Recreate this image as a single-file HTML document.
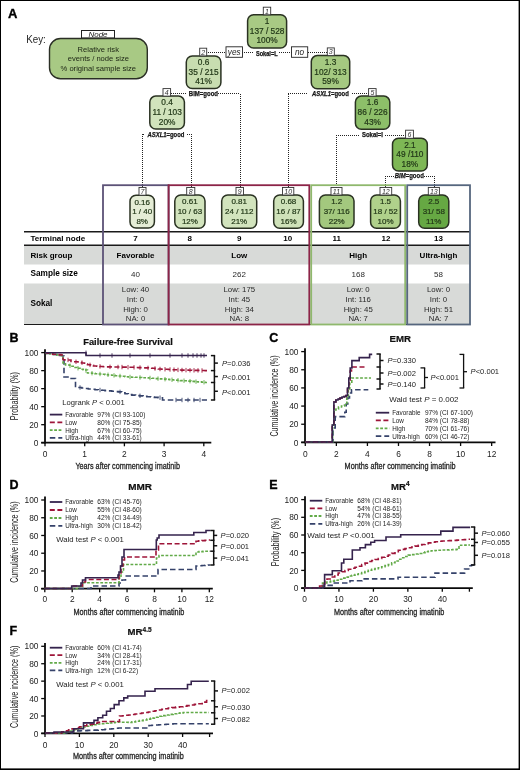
<!DOCTYPE html>
<html><head><meta charset="utf-8"><title>Figure</title>
<style>
html,body{margin:0;padding:0;background:#fff;}
body{width:520px;height:770px;overflow:hidden;}
svg{display:block;font-family:"Liberation Sans", sans-serif;will-change:transform;}
</style></head><body>
<svg width="520" height="770" viewBox="0 0 520 770">
<rect x="0" y="0" width="520" height="770" fill="#fff"/>
<text x="8" y="18.2" font-size="13" font-weight="bold" fill="#000" stroke="#000" stroke-width="0.35">A</text>
<text x="26.2" y="43" font-size="11.5" fill="#262626" textLength="19.6" lengthAdjust="spacingAndGlyphs" >Key:</text>
<rect x="81.5" y="30.5" width="33" height="7.5" fill="#fff" stroke="#222" stroke-width="1"/>
<text x="98" y="37" font-size="8" text-anchor="middle" font-style="italic" fill="#222" >Node</text>
<rect x="49.5" y="38.5" width="97.80000000000001" height="40.3" rx="11" ry="11" fill="#a8c984" stroke="#2b2f26" stroke-width="1.4"/>
<text x="98.3" y="51.5" font-size="7.6" text-anchor="middle" fill="#1c2414" >Relative risk</text>
<text x="98.3" y="61.3" font-size="7.6" text-anchor="middle" fill="#1c2414" >events / node size</text>
<text x="98.3" y="71.2" font-size="7.6" text-anchor="middle" fill="#1c2414" >% original sample size</text>
<line x1="206" y1="52.5" x2="226" y2="52.5" stroke="#222" stroke-width="1.0" stroke-dasharray="1,1" />
<line x1="242" y1="52.5" x2="254" y2="52.5" stroke="#222" stroke-width="1.0" stroke-dasharray="1,1" />
<line x1="279" y1="52.5" x2="292" y2="52.5" stroke="#222" stroke-width="1.0" stroke-dasharray="1,1" />
<line x1="308" y1="52.5" x2="327" y2="52.5" stroke="#222" stroke-width="1.0" stroke-dasharray="1,1" />
<rect x="226" y="46.8" width="16.5" height="10.5" fill="#fff" stroke="#222" stroke-width="0.9"/>
<text x="234.2" y="55" font-size="8.2" text-anchor="middle" font-style="italic" fill="#222" >yes</text>
<rect x="291.5" y="46.8" width="16.2" height="10.5" fill="#fff" stroke="#222" stroke-width="0.9"/>
<text x="299.6" y="55" font-size="8.2" text-anchor="middle" font-style="italic" fill="#222" >no</text>
<text x="266.75" y="56" font-size="6.3" text-anchor="middle" font-weight="bold" fill="#151515" textLength="21.7" lengthAdjust="spacingAndGlyphs" stroke="#151515" stroke-width="0.25">Sokal=L</text>
<line x1="171" y1="93.5" x2="187" y2="93.5" stroke="#222" stroke-width="1.0" stroke-dasharray="1,1" />
<line x1="218" y1="93.5" x2="240" y2="93.5" stroke="#222" stroke-width="1.0" stroke-dasharray="1,1" />
<line x1="240.5" y1="94" x2="240.5" y2="188" stroke="#222" stroke-width="1.0" stroke-dasharray="1,1" />
<text x="203.4" y="95.9" font-size="6.3" text-anchor="middle" font-weight="bold" fill="#151515" textLength="29.2" lengthAdjust="spacingAndGlyphs" stroke="#151515" stroke-width="0.25">BIM=good</text>
<line x1="143" y1="134.5" x2="145" y2="134.5" stroke="#222" stroke-width="1.0" stroke-dasharray="1,1" />
<line x1="142.5" y1="134" x2="142.5" y2="188" stroke="#222" stroke-width="1.0" stroke-dasharray="1,1" />
<line x1="187" y1="134.5" x2="191" y2="134.5" stroke="#222" stroke-width="1.0" stroke-dasharray="1,1" />
<line x1="191.5" y1="134" x2="191.5" y2="188" stroke="#222" stroke-width="1.0" stroke-dasharray="1,1" />
<text x="166" y="137" font-size="6.3" text-anchor="middle" font-weight="bold" fill="#151515" textLength="36.9" lengthAdjust="spacingAndGlyphs" stroke="#151515" stroke-width="0.25"><tspan font-style="italic">ASXL1</tspan>=good</text>
<line x1="288" y1="93.5" x2="307" y2="93.5" stroke="#222" stroke-width="1.0" stroke-dasharray="1,1" />
<line x1="288.5" y1="94" x2="288.5" y2="188" stroke="#222" stroke-width="1.0" stroke-dasharray="1,1" />
<line x1="352" y1="93.5" x2="369" y2="93.5" stroke="#222" stroke-width="1.0" stroke-dasharray="1,1" />
<text x="330.4" y="95.6" font-size="6.3" text-anchor="middle" font-weight="bold" fill="#151515" textLength="36.9" lengthAdjust="spacingAndGlyphs" stroke="#151515" stroke-width="0.25"><tspan font-style="italic">ASXL1</tspan>=good</text>
<line x1="336" y1="135.5" x2="360" y2="135.5" stroke="#222" stroke-width="1.0" stroke-dasharray="1,1" />
<line x1="336.5" y1="135" x2="336.5" y2="188" stroke="#222" stroke-width="1.0" stroke-dasharray="1,1" />
<line x1="385" y1="135.5" x2="406" y2="135.5" stroke="#222" stroke-width="1.0" stroke-dasharray="1,1" />
<text x="372.5" y="137" font-size="6.3" text-anchor="middle" font-weight="bold" fill="#151515" textLength="21" lengthAdjust="spacingAndGlyphs" stroke="#151515" stroke-width="0.25">Sokal=I</text>
<line x1="385" y1="176.5" x2="394" y2="176.5" stroke="#222" stroke-width="1.0" stroke-dasharray="1,1" />
<line x1="385.5" y1="176" x2="385.5" y2="188" stroke="#222" stroke-width="1.0" stroke-dasharray="1,1" />
<line x1="424" y1="176.5" x2="434" y2="176.5" stroke="#222" stroke-width="1.0" stroke-dasharray="1,1" />
<line x1="434.5" y1="176" x2="434.5" y2="188" stroke="#222" stroke-width="1.0" stroke-dasharray="1,1" />
<text x="409.3" y="178.3" font-size="6.3" text-anchor="middle" font-weight="bold" fill="#151515" textLength="29" lengthAdjust="spacingAndGlyphs" stroke="#151515" stroke-width="0.25"><tspan font-style="italic">BIM</tspan>=good</text>
<rect x="24" y="246" width="446" height="18.5" fill="#d8dad8"/>
<rect x="24" y="283.5" width="446" height="40.5" fill="#d8dad8"/>
<rect x="247.6" y="14.8" width="39.00000000000003" height="33.3" rx="6" ry="6" fill="#a8ca84" stroke="#2a3222" stroke-width="1.5"/>
<text x="267.1" y="24.0" font-size="8.3" text-anchor="middle" fill="#223818" stroke="#223818" stroke-width="0.2">1</text>
<text x="267.1" y="33.7" font-size="8.3" text-anchor="middle" fill="#223818" stroke="#223818" stroke-width="0.2">137 / 528</text>
<text x="267.1" y="43.3" font-size="8.3" text-anchor="middle" fill="#223818" stroke="#223818" stroke-width="0.2">100%</text>
<rect x="263.3" y="7.2" width="7.399999999999977" height="7.6000000000000005" fill="#fff" stroke="#333" stroke-width="0.9"/>
<text x="267.0" y="13.5" font-size="7" text-anchor="middle" font-style="italic" fill="#333" >1</text>
<rect x="186.3" y="55.9" width="34.599999999999994" height="32.699999999999996" rx="6" ry="6" fill="#c8ddb0" stroke="#2a3222" stroke-width="1.5"/>
<text x="203.6" y="65.1" font-size="8.3" text-anchor="middle" fill="#223818" stroke="#223818" stroke-width="0.2">0.6</text>
<text x="203.6" y="74.8" font-size="8.3" text-anchor="middle" fill="#223818" stroke="#223818" stroke-width="0.2">35 / 215</text>
<text x="203.6" y="84.4" font-size="8.3" text-anchor="middle" fill="#223818" stroke="#223818" stroke-width="0.2">41%</text>
<rect x="199.7" y="48.2" width="7.0" height="7.699999999999996" fill="#fff" stroke="#333" stroke-width="0.9"/>
<text x="203.2" y="54.6" font-size="7" text-anchor="middle" font-style="italic" fill="#333" >2</text>
<rect x="311.3" y="55.6" width="38.39999999999998" height="33.15" rx="6" ry="6" fill="#a5c981" stroke="#2a3222" stroke-width="1.5"/>
<text x="330.5" y="64.8" font-size="8.3" text-anchor="middle" fill="#223818" stroke="#223818" stroke-width="0.2">1.3</text>
<text x="330.5" y="74.5" font-size="8.3" text-anchor="middle" fill="#223818" stroke="#223818" stroke-width="0.2">102/ 313</text>
<text x="330.5" y="84.1" font-size="8.3" text-anchor="middle" fill="#223818" stroke="#223818" stroke-width="0.2">59%</text>
<rect x="327.3" y="47.9" width="7.0" height="7.700000000000003" fill="#fff" stroke="#333" stroke-width="0.9"/>
<text x="330.8" y="54.3" font-size="7" text-anchor="middle" font-style="italic" fill="#333" >3</text>
<rect x="149.8" y="96.1" width="34.599999999999994" height="32.900000000000006" rx="6" ry="6" fill="#d1e3bc" stroke="#2a3222" stroke-width="1.5"/>
<text x="167.1" y="105.3" font-size="8.3" text-anchor="middle" fill="#223818" stroke="#223818" stroke-width="0.2">0.4</text>
<text x="167.1" y="115.0" font-size="8.3" text-anchor="middle" fill="#223818" stroke="#223818" stroke-width="0.2">11 / 103</text>
<text x="167.1" y="124.6" font-size="8.3" text-anchor="middle" fill="#223818" stroke="#223818" stroke-width="0.2">20%</text>
<rect x="163" y="88.6" width="7.599999999999994" height="7.5" fill="#fff" stroke="#333" stroke-width="0.9"/>
<text x="166.8" y="94.8" font-size="7" text-anchor="middle" font-style="italic" fill="#333" >4</text>
<rect x="355.4" y="96.1" width="34.400000000000034" height="33.099999999999994" rx="6" ry="6" fill="#8dbf69" stroke="#2a3222" stroke-width="1.5"/>
<text x="372.6" y="105.3" font-size="8.3" text-anchor="middle" fill="#223818" stroke="#223818" stroke-width="0.2">1.6</text>
<text x="372.6" y="115.0" font-size="8.3" text-anchor="middle" fill="#223818" stroke="#223818" stroke-width="0.2">86 / 226</text>
<text x="372.6" y="124.6" font-size="8.3" text-anchor="middle" fill="#223818" stroke="#223818" stroke-width="0.2">43%</text>
<rect x="368.6" y="88.6" width="7.5" height="7.5" fill="#fff" stroke="#333" stroke-width="0.9"/>
<text x="372.35" y="94.8" font-size="7" text-anchor="middle" font-style="italic" fill="#333" >5</text>
<rect x="392.5" y="138.3" width="34.80000000000001" height="32.79999999999998" rx="6" ry="6" fill="#7eb755" stroke="#2a3222" stroke-width="1.5"/>
<text x="409.9" y="147.5" font-size="8.3" text-anchor="middle" fill="#223818" stroke="#223818" stroke-width="0.2">2.1</text>
<text x="409.9" y="157.2" font-size="8.3" text-anchor="middle" fill="#223818" stroke="#223818" stroke-width="0.2">49 /110</text>
<text x="409.9" y="166.8" font-size="8.3" text-anchor="middle" fill="#223818" stroke="#223818" stroke-width="0.2">18%</text>
<rect x="405.6" y="130.2" width="7.7999999999999545" height="8.100000000000023" fill="#fff" stroke="#333" stroke-width="0.9"/>
<text x="409.5" y="137.0" font-size="7" text-anchor="middle" font-style="italic" fill="#333" >6</text>
<rect x="130" y="195.2" width="24.400000000000006" height="32.80000000000001" rx="6" ry="6" fill="#e5edd6" stroke="#2a3222" stroke-width="1.5"/>
<text x="142.2" y="204.6" font-size="8" text-anchor="middle" fill="#223818" stroke="#223818" stroke-width="0.2">0.16</text>
<text x="142.2" y="214.0" font-size="8" text-anchor="middle" fill="#223818" stroke="#223818" stroke-width="0.2">1 / 40</text>
<text x="142.2" y="223.7" font-size="8" text-anchor="middle" fill="#223818" stroke="#223818" stroke-width="0.2">8%</text>
<rect x="139" y="187.5" width="7" height="7.699999999999989" fill="#fff" stroke="#333" stroke-width="0.9"/>
<text x="142.5" y="193.9" font-size="7" text-anchor="middle" font-style="italic" fill="#333" >7</text>
<rect x="174.8" y="195" width="30.19999999999999" height="33.30000000000001" rx="6" ry="6" fill="#d2e4bd" stroke="#2a3222" stroke-width="1.5"/>
<text x="189.9" y="204.4" font-size="8" text-anchor="middle" fill="#223818" stroke="#223818" stroke-width="0.2">0.61</text>
<text x="189.9" y="213.8" font-size="8" text-anchor="middle" fill="#223818" stroke="#223818" stroke-width="0.2">10 / 63</text>
<text x="189.9" y="223.5" font-size="8" text-anchor="middle" fill="#223818" stroke="#223818" stroke-width="0.2">12%</text>
<rect x="186.7" y="187.5" width="8.100000000000023" height="7.5" fill="#fff" stroke="#333" stroke-width="0.9"/>
<text x="190.75" y="193.7" font-size="7" text-anchor="middle" font-style="italic" fill="#333" >8</text>
<rect x="221.7" y="195" width="35.0" height="33.30000000000001" rx="6" ry="6" fill="#d2e4bd" stroke="#2a3222" stroke-width="1.5"/>
<text x="239.2" y="204.4" font-size="8" text-anchor="middle" fill="#223818" stroke="#223818" stroke-width="0.2">0.81</text>
<text x="239.2" y="213.8" font-size="8" text-anchor="middle" fill="#223818" stroke="#223818" stroke-width="0.2">24 / 112</text>
<text x="239.2" y="223.5" font-size="8" text-anchor="middle" fill="#223818" stroke="#223818" stroke-width="0.2">21%</text>
<rect x="236" y="187.5" width="7.5" height="7.5" fill="#fff" stroke="#333" stroke-width="0.9"/>
<text x="239.75" y="193.7" font-size="7" text-anchor="middle" font-style="italic" fill="#333" >9</text>
<rect x="273.7" y="195" width="29.69999999999999" height="33.30000000000001" rx="6" ry="6" fill="#cfe2b9" stroke="#2a3222" stroke-width="1.5"/>
<text x="288.55" y="204.4" font-size="8" text-anchor="middle" fill="#223818" stroke="#223818" stroke-width="0.2">0.68</text>
<text x="288.55" y="213.8" font-size="8" text-anchor="middle" fill="#223818" stroke="#223818" stroke-width="0.2">16 / 87</text>
<text x="288.55" y="223.5" font-size="8" text-anchor="middle" fill="#223818" stroke="#223818" stroke-width="0.2">16%</text>
<rect x="282.5" y="187.5" width="11.300000000000011" height="7.5" fill="#fff" stroke="#333" stroke-width="0.9"/>
<text x="288.15" y="193.7" font-size="7" text-anchor="middle" font-style="italic" fill="#333" >10</text>
<rect x="319.4" y="195" width="34.60000000000002" height="33.30000000000001" rx="6" ry="6" fill="#a3c87e" stroke="#2a3222" stroke-width="1.5"/>
<text x="336.7" y="204.4" font-size="8" text-anchor="middle" fill="#223818" stroke="#223818" stroke-width="0.2">1.2</text>
<text x="336.7" y="213.8" font-size="8" text-anchor="middle" fill="#223818" stroke="#223818" stroke-width="0.2">37/ 116</text>
<text x="336.7" y="223.5" font-size="8" text-anchor="middle" fill="#223818" stroke="#223818" stroke-width="0.2">22%</text>
<rect x="331" y="187.5" width="11" height="7.5" fill="#fff" stroke="#333" stroke-width="0.9"/>
<text x="336.5" y="193.7" font-size="7" text-anchor="middle" font-style="italic" fill="#333" >11</text>
<rect x="370.6" y="195" width="29.799999999999955" height="33.30000000000001" rx="6" ry="6" fill="#b0d18b" stroke="#2a3222" stroke-width="1.5"/>
<text x="385.5" y="204.4" font-size="8" text-anchor="middle" fill="#223818" stroke="#223818" stroke-width="0.2">1.5</text>
<text x="385.5" y="213.8" font-size="8" text-anchor="middle" fill="#223818" stroke="#223818" stroke-width="0.2">18 / 52</text>
<text x="385.5" y="223.5" font-size="8" text-anchor="middle" fill="#223818" stroke="#223818" stroke-width="0.2">10%</text>
<rect x="380" y="187.5" width="11.699999999999989" height="7.5" fill="#fff" stroke="#333" stroke-width="0.9"/>
<text x="385.85" y="193.7" font-size="7" text-anchor="middle" font-style="italic" fill="#333" >12</text>
<rect x="418.7" y="195" width="30.100000000000023" height="33.30000000000001" rx="6" ry="6" fill="#66a843" stroke="#2a3222" stroke-width="1.5"/>
<text x="433.75" y="204.4" font-size="8" text-anchor="middle" fill="#223818" stroke="#223818" stroke-width="0.2">2.5</text>
<text x="433.75" y="213.8" font-size="8" text-anchor="middle" fill="#223818" stroke="#223818" stroke-width="0.2">31/ 58</text>
<text x="433.75" y="223.5" font-size="8" text-anchor="middle" fill="#223818" stroke="#223818" stroke-width="0.2">11%</text>
<rect x="428.3" y="187.5" width="11.099999999999966" height="7.5" fill="#fff" stroke="#333" stroke-width="0.9"/>
<text x="433.85" y="193.7" font-size="7" text-anchor="middle" font-style="italic" fill="#333" >13</text>
<line x1="24" y1="231.8" x2="470" y2="231.8" stroke="#1a1a1a" stroke-width="1.4" />
<line x1="24" y1="245.3" x2="470" y2="245.3" stroke="#1a1a1a" stroke-width="1.4" />
<line x1="24" y1="324.5" x2="470" y2="324.5" stroke="#1a1a1a" stroke-width="1.2" />
<rect x="103" y="185.2" width="65.6" height="139.3" fill="none" stroke="#5c5277" stroke-width="1.8"/>
<rect x="168.6" y="185.2" width="140.7" height="139.3" fill="none" stroke="#8c2448" stroke-width="1.8"/>
<rect x="311.2" y="185.2" width="94" height="139.3" fill="none" stroke="#8fb86d" stroke-width="1.8"/>
<rect x="407.2" y="185.2" width="62.8" height="139.3" fill="none" stroke="#56667e" stroke-width="1.8"/>
<text x="30.5" y="240.9" font-size="8" font-weight="bold" textLength="54.7" lengthAdjust="spacingAndGlyphs" >Terminal node</text>
<text x="30.5" y="257.7" font-size="8" font-weight="bold" textLength="41.8" lengthAdjust="spacingAndGlyphs" >Risk group</text>
<text x="30.5" y="276.3" font-size="8.3" font-weight="bold" textLength="47.3" lengthAdjust="spacingAndGlyphs" >Sample size</text>
<text x="30.5" y="306.4" font-size="8.2" font-weight="bold" >Sokal</text>
<text x="135.5" y="240.9" font-size="8" text-anchor="middle" font-weight="bold" >7</text>
<text x="189.7" y="240.9" font-size="8" text-anchor="middle" font-weight="bold" >8</text>
<text x="239.3" y="240.9" font-size="8" text-anchor="middle" font-weight="bold" >9</text>
<text x="287.8" y="240.9" font-size="8" text-anchor="middle" font-weight="bold" >10</text>
<text x="336.7" y="240.9" font-size="8" text-anchor="middle" font-weight="bold" >11</text>
<text x="386" y="240.9" font-size="8" text-anchor="middle" font-weight="bold" >12</text>
<text x="438.5" y="240.9" font-size="8" text-anchor="middle" font-weight="bold" >13</text>
<text x="135.5" y="258.3" font-size="8" text-anchor="middle" font-weight="bold" >Favorable</text>
<text x="239.3" y="258.3" font-size="8" text-anchor="middle" font-weight="bold" >Low</text>
<text x="358.2" y="258.3" font-size="8" text-anchor="middle" font-weight="bold" >High</text>
<text x="438.5" y="258.3" font-size="8" text-anchor="middle" font-weight="bold" >Ultra-high</text>
<text x="135.5" y="276.8" font-size="8" text-anchor="middle" fill="#2a2a2a" >40</text>
<text x="239.3" y="276.8" font-size="8" text-anchor="middle" fill="#2a2a2a" >262</text>
<text x="358.2" y="276.8" font-size="8" text-anchor="middle" fill="#2a2a2a" >168</text>
<text x="438.5" y="276.8" font-size="8" text-anchor="middle" fill="#2a2a2a" >58</text>
<text x="135.5" y="292.2" font-size="7.8" text-anchor="middle" fill="#2a2a2a" >Low: 40</text>
<text x="135.5" y="301.95" font-size="7.8" text-anchor="middle" fill="#2a2a2a" >Int: 0</text>
<text x="135.5" y="311.7" font-size="7.8" text-anchor="middle" fill="#2a2a2a" >High: 0</text>
<text x="135.5" y="321.45" font-size="7.8" text-anchor="middle" fill="#2a2a2a" >NA: 0</text>
<text x="239.3" y="292.2" font-size="7.8" text-anchor="middle" fill="#2a2a2a" >Low: 175</text>
<text x="239.3" y="301.95" font-size="7.8" text-anchor="middle" fill="#2a2a2a" >Int: 45</text>
<text x="239.3" y="311.7" font-size="7.8" text-anchor="middle" fill="#2a2a2a" >High: 34</text>
<text x="239.3" y="321.45" font-size="7.8" text-anchor="middle" fill="#2a2a2a" >NA: 8</text>
<text x="358.2" y="292.2" font-size="7.8" text-anchor="middle" fill="#2a2a2a" >Low: 0</text>
<text x="358.2" y="301.95" font-size="7.8" text-anchor="middle" fill="#2a2a2a" >Int: 116</text>
<text x="358.2" y="311.7" font-size="7.8" text-anchor="middle" fill="#2a2a2a" >High: 45</text>
<text x="358.2" y="321.45" font-size="7.8" text-anchor="middle" fill="#2a2a2a" >NA: 7</text>
<text x="438.5" y="292.2" font-size="7.8" text-anchor="middle" fill="#2a2a2a" >Low: 0</text>
<text x="438.5" y="301.95" font-size="7.8" text-anchor="middle" fill="#2a2a2a" >Int: 0</text>
<text x="438.5" y="311.7" font-size="7.8" text-anchor="middle" fill="#2a2a2a" >High: 51</text>
<text x="438.5" y="321.45" font-size="7.8" text-anchor="middle" fill="#2a2a2a" >NA: 7</text>
<text x="9.5" y="342.2" font-size="12.5" font-weight="bold" fill="#000" stroke="#000" stroke-width="0.35">B</text>
<text x="128" y="345.4" font-size="9.6" text-anchor="middle" font-weight="bold" fill="#111" textLength="89.5" lengthAdjust="spacingAndGlyphs" stroke="#111" stroke-width="0.2">Failure-free Survival</text>
<line x1="45" y1="349.20000000000005" x2="45" y2="443.5" stroke="#0a0a0a" stroke-width="1.8" />
<line x1="41.2" y1="352.6" x2="45" y2="352.6" stroke="#0a0a0a" stroke-width="1.3" />
<text x="38.5" y="355.7" font-size="8.4" text-anchor="end" fill="#222" >100</text>
<line x1="41.2" y1="370.62" x2="45" y2="370.62" stroke="#0a0a0a" stroke-width="1.3" />
<text x="38.5" y="373.72" font-size="8.4" text-anchor="end" fill="#222" >80</text>
<line x1="41.2" y1="388.64" x2="45" y2="388.64" stroke="#0a0a0a" stroke-width="1.3" />
<text x="38.5" y="391.74" font-size="8.4" text-anchor="end" fill="#222" >60</text>
<line x1="41.2" y1="406.65999999999997" x2="45" y2="406.65999999999997" stroke="#0a0a0a" stroke-width="1.3" />
<text x="38.5" y="409.76" font-size="8.4" text-anchor="end" fill="#222" >40</text>
<line x1="41.2" y1="424.68" x2="45" y2="424.68" stroke="#0a0a0a" stroke-width="1.3" />
<text x="38.5" y="427.78" font-size="8.4" text-anchor="end" fill="#222" >20</text>
<line x1="41.2" y1="442.7" x2="45" y2="442.7" stroke="#0a0a0a" stroke-width="1.3" />
<text x="38.5" y="445.8" font-size="8.4" text-anchor="end" fill="#222" >0</text>
<line x1="41.2" y1="442.7" x2="211.3" y2="442.7" stroke="#0a0a0a" stroke-width="1.7" />
<line x1="45.0" y1="442.7" x2="45.0" y2="446.3" stroke="#0a0a0a" stroke-width="1.3" />
<text x="45.0" y="457.3" font-size="8.4" text-anchor="middle" fill="#222" >0</text>
<line x1="84.7" y1="442.7" x2="84.7" y2="446.3" stroke="#0a0a0a" stroke-width="1.3" />
<text x="84.7" y="457.3" font-size="8.4" text-anchor="middle" fill="#222" >1</text>
<line x1="124.4" y1="442.7" x2="124.4" y2="446.3" stroke="#0a0a0a" stroke-width="1.3" />
<text x="124.4" y="457.3" font-size="8.4" text-anchor="middle" fill="#222" >2</text>
<line x1="164.10000000000002" y1="442.7" x2="164.10000000000002" y2="446.3" stroke="#0a0a0a" stroke-width="1.3" />
<text x="164.10000000000002" y="457.3" font-size="8.4" text-anchor="middle" fill="#222" >3</text>
<line x1="203.8" y1="442.7" x2="203.8" y2="446.3" stroke="#0a0a0a" stroke-width="1.3" />
<text x="203.8" y="457.3" font-size="8.4" text-anchor="middle" fill="#222" >4</text>
<text x="0" y="0" font-size="10.8" text-anchor="middle" fill="#222" textLength="48.2" lengthAdjust="spacingAndGlyphs" transform="translate(17.6,396.1) rotate(-90)">Probability (%)</text>
<text x="127.7" y="469.4" font-size="9.6" text-anchor="middle" fill="#222" textLength="104.6" lengthAdjust="spacingAndGlyphs" stroke="#222" stroke-width="0.3">Years after commencing imatinib</text>
<polyline points="45.0,352.8 46.7,352.8 46.7,353.4 50.0,353.4 50.0,353.9 53.3,353.9 53.3,354.5 55.0,354.5 56.5,354.5 56.5,355.0 59.5,355.0 59.5,355.5 62.5,355.5 62.5,356.0 64.0,356.0 64.0,377.0 69.4,377.0 69.4,378.5 75.5,378.5 75.5,386.5 77.8,386.5 77.8,387.5 80.0,387.5 81.7,387.5 81.7,388.0 85.0,388.0 85.0,388.5 88.3,388.5 88.3,389.0 90.0,389.0 91.7,389.0 91.7,389.3 95.0,389.3 95.0,389.7 98.3,389.7 98.3,390.0 100.0,390.0 101.7,390.0 101.7,390.3 105.0,390.3 105.0,390.6 108.3,390.6 108.3,390.9 111.7,390.9 111.7,391.3 115.0,391.3 115.0,391.6 118.3,391.6 118.3,391.9 120.0,391.9 121.7,391.9 121.7,392.8 125.0,392.8 125.0,393.7 128.3,393.7 128.3,394.6 130.0,394.6 131.9,394.6 131.9,395.1 135.6,395.1 135.6,395.5 139.4,395.5 139.4,395.9 143.1,395.9 143.1,396.4 145.0,396.4 146.9,396.4 146.9,396.7 150.6,396.7 150.6,397.0 154.4,397.0 154.4,397.4 158.1,397.4 158.1,397.7 160.0,397.7 162.5,397.7 162.5,400.0 165.0,400.0 207.0,400.0" fill="none" stroke="#35426a" stroke-width="1.6" stroke-dasharray="5.5,3" stroke-linejoin="miter" />
<polyline points="45.0,352.8 46.7,352.8 46.7,353.4 50.0,353.4 50.0,353.9 53.3,353.9 53.3,354.5 55.0,354.5 57.0,354.5 57.0,355.0 61.0,355.0 61.0,355.5 63.0,355.5 63.0,363.0 65.5,363.0 65.5,365.0 68.0,365.0 69.8,365.0 69.8,366.2 73.2,366.2 73.2,367.5 75.0,367.5 76.7,367.5 76.7,368.3 80.0,368.3 80.0,369.2 83.3,369.2 83.3,370.0 85.0,370.0 87.5,370.0 87.5,373.0 90.0,373.0 91.7,373.0 91.7,373.3 95.0,373.3 95.0,373.7 98.3,373.7 98.3,374.0 100.0,374.0 101.7,374.0 101.7,374.3 105.0,374.3 105.0,374.7 108.3,374.7 108.3,375.0 111.7,375.0 111.7,375.3 115.0,375.3 115.0,375.7 118.3,375.7 118.3,376.0 121.7,376.0 121.7,376.3 125.0,376.3 125.0,376.7 128.3,376.7 128.3,377.0 130.0,377.0 131.7,377.0 131.7,377.2 135.0,377.2 135.0,377.3 138.3,377.3 138.3,377.5 141.7,377.5 141.7,377.7 145.0,377.7 145.0,377.8 148.3,377.8 148.3,378.0 150.0,378.0 151.8,378.0 151.8,378.3 155.4,378.3 155.4,378.6 158.9,378.6 158.9,378.9 162.5,378.9 162.5,379.1 166.1,379.1 166.1,379.4 169.6,379.4 169.6,379.7 173.2,379.7 173.2,380.0 175.0,380.0 176.8,380.0 176.8,380.3 180.3,380.3 180.3,380.6 183.9,380.6 183.9,380.8 187.4,380.8 187.4,381.1 191.0,381.1 191.0,381.4 194.6,381.4 194.6,381.7 198.1,381.7 198.1,381.9 201.7,381.9 201.7,382.2 205.2,382.2 205.2,382.5 207.0,382.5" fill="none" stroke="#62aa48" stroke-width="1.6" stroke-dasharray="2.8,1.6" stroke-linejoin="miter" />
<polyline points="45.0,352.8 47.5,352.8 47.5,353.3 50.0,353.3 52.5,353.3 52.5,354.3 55.0,354.3 57.0,354.3 57.0,354.6 61.0,354.6 61.0,355.0 63.0,355.0 63.0,359.7 64.8,359.7 64.8,359.9 68.2,359.9 68.2,360.0 70.0,360.0 71.0,360.0 71.0,361.5 72.0,361.5 74.0,361.5 74.0,361.8 78.0,361.8 78.0,362.0 80.0,362.0 81.5,362.0 81.5,363.0 84.5,363.0 84.5,364.0 86.0,364.0 87.5,364.0 87.5,364.7 90.5,364.7 90.5,365.3 93.5,365.3 93.5,366.0 95.0,366.0 96.7,366.0 96.7,366.3 100.0,366.3 100.0,366.5 103.3,366.5 103.3,366.8 105.0,366.8 106.8,366.8 106.8,366.9 110.4,366.9 110.4,366.9 113.9,366.9 113.9,367.0 117.5,367.0 117.5,367.0 121.1,367.0 121.1,367.1 124.6,367.1 124.6,367.1 128.2,367.1 128.2,367.2 130.0,367.2 131.7,367.2 131.7,367.3 135.0,367.3 135.0,367.5 138.3,367.5 138.3,367.6 141.7,367.6 141.7,367.7 145.0,367.7 145.0,367.9 148.3,367.9 148.3,368.0 150.0,368.0 151.7,368.0 151.7,368.3 155.0,368.3 155.0,368.7 158.3,368.7 158.3,369.0 160.0,369.0 161.7,369.0 161.7,369.2 165.0,369.2 165.0,369.3 168.3,369.3 168.3,369.5 171.7,369.5 171.7,369.7 175.0,369.7 175.0,369.8 178.3,369.8 178.3,370.0 180.0,370.0 181.7,370.0 181.7,370.1 185.1,370.1 185.1,370.1 188.4,370.1 188.4,370.2 191.8,370.2 191.8,370.3 195.2,370.3 195.2,370.4 198.6,370.4 198.6,370.5 201.9,370.5 201.9,370.5 205.3,370.5 205.3,370.6 207.0,370.6" fill="none" stroke="#9e1539" stroke-width="1.6" stroke-dasharray="5,2.6" stroke-linejoin="miter" />
<polyline points="45.0,352.8 86.0,352.8 86.0,355.5 207.0,355.5" fill="none" stroke="#35234d" stroke-width="1.6" stroke-linejoin="miter" />
<line x1="86" y1="350.6" x2="86" y2="355.0" stroke="#35234d" stroke-width="0.9" />
<line x1="100" y1="353.3" x2="100" y2="357.7" stroke="#35234d" stroke-width="0.9" />
<line x1="112" y1="353.3" x2="112" y2="357.7" stroke="#35234d" stroke-width="0.9" />
<line x1="130" y1="353.3" x2="130" y2="357.7" stroke="#35234d" stroke-width="0.9" />
<line x1="150" y1="353.3" x2="150" y2="357.7" stroke="#35234d" stroke-width="0.9" />
<line x1="170" y1="353.3" x2="170" y2="357.7" stroke="#35234d" stroke-width="0.9" />
<line x1="182" y1="353.3" x2="182" y2="357.7" stroke="#35234d" stroke-width="0.9" />
<line x1="188" y1="353.3" x2="188" y2="357.7" stroke="#35234d" stroke-width="0.9" />
<line x1="193" y1="353.3" x2="193" y2="357.7" stroke="#35234d" stroke-width="0.9" />
<line x1="197" y1="353.3" x2="197" y2="357.7" stroke="#35234d" stroke-width="0.9" />
<line x1="201" y1="353.3" x2="201" y2="357.7" stroke="#35234d" stroke-width="0.9" />
<line x1="204" y1="353.3" x2="204" y2="357.7" stroke="#35234d" stroke-width="0.9" />
<line x1="68" y1="357.7142857142857" x2="68" y2="362.1142857142857" stroke="#9e1539" stroke-width="0.9" />
<line x1="76" y1="359.55" x2="76" y2="363.95" stroke="#9e1539" stroke-width="0.9" />
<line x1="82" y1="360.4666666666667" x2="82" y2="364.8666666666667" stroke="#9e1539" stroke-width="0.9" />
<line x1="90" y1="362.6888888888889" x2="90" y2="367.0888888888889" stroke="#9e1539" stroke-width="0.9" />
<line x1="100" y1="364.2" x2="100" y2="368.59999999999997" stroke="#9e1539" stroke-width="0.9" />
<line x1="110" y1="364.68" x2="110" y2="369.08" stroke="#9e1539" stroke-width="0.9" />
<line x1="118" y1="364.808" x2="118" y2="369.20799999999997" stroke="#9e1539" stroke-width="0.9" />
<line x1="122" y1="364.872" x2="122" y2="369.272" stroke="#9e1539" stroke-width="0.9" />
<line x1="128" y1="364.968" x2="128" y2="369.368" stroke="#9e1539" stroke-width="0.9" />
<line x1="134" y1="365.16" x2="134" y2="369.56" stroke="#9e1539" stroke-width="0.9" />
<line x1="140" y1="365.40000000000003" x2="140" y2="369.8" stroke="#9e1539" stroke-width="0.9" />
<line x1="148" y1="365.72" x2="148" y2="370.12" stroke="#9e1539" stroke-width="0.9" />
<line x1="155" y1="366.3" x2="155" y2="370.7" stroke="#9e1539" stroke-width="0.9" />
<line x1="160" y1="366.8" x2="160" y2="371.2" stroke="#9e1539" stroke-width="0.9" />
<line x1="165" y1="367.05" x2="165" y2="371.45" stroke="#9e1539" stroke-width="0.9" />
<line x1="170" y1="367.3" x2="170" y2="371.7" stroke="#9e1539" stroke-width="0.9" />
<line x1="174" y1="367.5" x2="174" y2="371.9" stroke="#9e1539" stroke-width="0.9" />
<line x1="178" y1="367.7" x2="178" y2="372.09999999999997" stroke="#9e1539" stroke-width="0.9" />
<line x1="182" y1="367.84444444444443" x2="182" y2="372.2444444444444" stroke="#9e1539" stroke-width="0.9" />
<line x1="186" y1="367.93333333333334" x2="186" y2="372.3333333333333" stroke="#9e1539" stroke-width="0.9" />
<line x1="190" y1="368.02222222222224" x2="190" y2="372.4222222222222" stroke="#9e1539" stroke-width="0.9" />
<line x1="194" y1="368.11111111111114" x2="194" y2="372.5111111111111" stroke="#9e1539" stroke-width="0.9" />
<line x1="198" y1="368.20000000000005" x2="198" y2="372.6" stroke="#9e1539" stroke-width="0.9" />
<line x1="202" y1="368.2888888888889" x2="202" y2="372.68888888888887" stroke="#9e1539" stroke-width="0.9" />
<line x1="70" y1="363.51428571428573" x2="70" y2="367.9142857142857" stroke="#62aa48" stroke-width="0.9" />
<line x1="78" y1="366.05" x2="78" y2="370.45" stroke="#62aa48" stroke-width="0.9" />
<line x1="86" y1="368.40000000000003" x2="86" y2="372.8" stroke="#62aa48" stroke-width="0.9" />
<line x1="92" y1="371.0" x2="92" y2="375.4" stroke="#62aa48" stroke-width="0.9" />
<line x1="100" y1="371.8" x2="100" y2="376.2" stroke="#62aa48" stroke-width="0.9" />
<line x1="108" y1="372.6" x2="108" y2="377.0" stroke="#62aa48" stroke-width="0.9" />
<line x1="114" y1="373.2" x2="114" y2="377.59999999999997" stroke="#62aa48" stroke-width="0.9" />
<line x1="120" y1="373.8" x2="120" y2="378.2" stroke="#62aa48" stroke-width="0.9" />
<line x1="130" y1="374.8" x2="130" y2="379.2" stroke="#62aa48" stroke-width="0.9" />
<line x1="140" y1="375.3" x2="140" y2="379.7" stroke="#62aa48" stroke-width="0.9" />
<line x1="150" y1="375.8" x2="150" y2="380.2" stroke="#62aa48" stroke-width="0.9" />
<line x1="158" y1="376.44" x2="158" y2="380.84" stroke="#62aa48" stroke-width="0.9" />
<line x1="165" y1="377.0" x2="165" y2="381.4" stroke="#62aa48" stroke-width="0.9" />
<line x1="172" y1="377.56" x2="172" y2="381.96" stroke="#62aa48" stroke-width="0.9" />
<line x1="178" y1="378.034375" x2="178" y2="382.434375" stroke="#62aa48" stroke-width="0.9" />
<line x1="184" y1="378.503125" x2="184" y2="382.903125" stroke="#62aa48" stroke-width="0.9" />
<line x1="190" y1="378.971875" x2="190" y2="383.371875" stroke="#62aa48" stroke-width="0.9" />
<line x1="196" y1="379.440625" x2="196" y2="383.840625" stroke="#62aa48" stroke-width="0.9" />
<line x1="204" y1="380.065625" x2="204" y2="384.465625" stroke="#62aa48" stroke-width="0.9" />
<line x1="80" y1="385.3" x2="80" y2="389.7" stroke="#35426a" stroke-width="0.9" />
<line x1="100" y1="387.8" x2="100" y2="392.2" stroke="#35426a" stroke-width="0.9" />
<line x1="120" y1="389.7" x2="120" y2="394.09999999999997" stroke="#35426a" stroke-width="0.9" />
<line x1="140" y1="393.6" x2="140" y2="398.0" stroke="#35426a" stroke-width="0.9" />
<line x1="160" y1="395.5" x2="160" y2="399.9" stroke="#35426a" stroke-width="0.9" />
<line x1="176" y1="397.8" x2="176" y2="402.2" stroke="#35426a" stroke-width="0.9" />
<line x1="182" y1="397.8" x2="182" y2="402.2" stroke="#35426a" stroke-width="0.9" />
<line x1="188" y1="397.8" x2="188" y2="402.2" stroke="#35426a" stroke-width="0.9" />
<line x1="194" y1="397.8" x2="194" y2="402.2" stroke="#35426a" stroke-width="0.9" />
<line x1="200" y1="397.8" x2="200" y2="402.2" stroke="#35426a" stroke-width="0.9" />
<text x="62.3" y="404.6" font-size="8" fill="#222" textLength="62.5" lengthAdjust="spacingAndGlyphs" >Logrank <tspan font-style="italic">P</tspan> &lt; 0.001</text>
<line x1="49.8" y1="414.6" x2="62.3" y2="414.6" stroke="#35234d" stroke-width="1.8" />
<g transform="translate(65.2,417.0) scale(0.95,1) translate(-65.2,-417.0)"><text x="65.2" y="417.0" font-size="6.7" fill="#222" >Favorable</text></g>
<g transform="translate(97.3,417.0) scale(0.98,1) translate(-97.3,-417.0)"><text x="97.3" y="417.0" font-size="6.7" fill="#222" >97% (CI 93-100)</text></g>
<line x1="49.8" y1="422.3" x2="62.3" y2="422.3" stroke="#9e1539" stroke-width="1.8" stroke-dasharray="5,2.6" />
<g transform="translate(65.2,424.7) scale(0.95,1) translate(-65.2,-424.7)"><text x="65.2" y="424.7" font-size="6.7" fill="#222" >Low</text></g>
<g transform="translate(97.3,424.7) scale(0.98,1) translate(-97.3,-424.7)"><text x="97.3" y="424.7" font-size="6.7" fill="#222" >80% (CI 75-85)</text></g>
<line x1="49.8" y1="430.2" x2="62.3" y2="430.2" stroke="#62aa48" stroke-width="1.8" stroke-dasharray="2.8,1.6" />
<g transform="translate(65.2,432.6) scale(0.95,1) translate(-65.2,-432.6)"><text x="65.2" y="432.6" font-size="6.7" fill="#222" >High</text></g>
<g transform="translate(97.3,432.6) scale(0.98,1) translate(-97.3,-432.6)"><text x="97.3" y="432.6" font-size="6.7" fill="#222" >67% (CI 60-75)</text></g>
<line x1="49.8" y1="437.9" x2="62.3" y2="437.9" stroke="#35426a" stroke-width="1.8" stroke-dasharray="5.5,3" />
<g transform="translate(65.2,440.3) scale(0.95,1) translate(-65.2,-440.3)"><text x="65.2" y="440.3" font-size="6.7" fill="#222" >Ultra-high</text></g>
<g transform="translate(97.3,440.3) scale(0.98,1) translate(-97.3,-440.3)"><text x="97.3" y="440.3" font-size="6.7" fill="#222" >44% (CI 33-61)</text></g>
<line x1="214.4" y1="355.6" x2="214.4" y2="400" stroke="#111" stroke-width="1.5"/>
<line x1="210.9" y1="355.6" x2="215.15" y2="355.6" stroke="#111" stroke-width="1.5"/>
<line x1="210.9" y1="370.6" x2="215.15" y2="370.6" stroke="#111" stroke-width="1.5"/>
<line x1="210.9" y1="382.5" x2="215.15" y2="382.5" stroke="#111" stroke-width="1.5"/>
<line x1="210.9" y1="400" x2="215.15" y2="400" stroke="#111" stroke-width="1.5"/>
<line x1="214.4" y1="363.1" x2="217.9" y2="363.1" stroke="#111" stroke-width="1.5"/>
<line x1="214.4" y1="376.55" x2="217.9" y2="376.55" stroke="#111" stroke-width="1.5"/>
<line x1="214.4" y1="391.25" x2="217.9" y2="391.25" stroke="#111" stroke-width="1.5"/>
<text x="222" y="365.7" font-size="7.5" fill="#222" textLength="28.5" lengthAdjust="spacingAndGlyphs"><tspan font-style="italic">P</tspan>=0.036</text>
<text x="222" y="379.6" font-size="7.5" fill="#222" textLength="28.5" lengthAdjust="spacingAndGlyphs"><tspan font-style="italic">P</tspan>&lt;0.001</text>
<text x="222" y="394.6" font-size="7.5" fill="#222" textLength="28.5" lengthAdjust="spacingAndGlyphs"><tspan font-style="italic">P</tspan>&lt;0.001</text>
<text x="269.3" y="341.5" font-size="12.5" font-weight="bold" fill="#000" stroke="#000" stroke-width="0.35">C</text>
<text x="400.2" y="342.2" font-size="9.6" text-anchor="middle" font-weight="bold" fill="#111" textLength="21.5" lengthAdjust="spacingAndGlyphs" stroke="#111" stroke-width="0.2">EMR</text>
<line x1="305" y1="348.20000000000005" x2="305" y2="443.2" stroke="#0a0a0a" stroke-width="1.8" />
<line x1="301.2" y1="351.6" x2="305" y2="351.6" stroke="#0a0a0a" stroke-width="1.3" />
<text x="298.5" y="354.7" font-size="8.4" text-anchor="end" fill="#222" >100</text>
<line x1="301.2" y1="369.76" x2="305" y2="369.76" stroke="#0a0a0a" stroke-width="1.3" />
<text x="298.5" y="372.86" font-size="8.4" text-anchor="end" fill="#222" >80</text>
<line x1="301.2" y1="387.92" x2="305" y2="387.92" stroke="#0a0a0a" stroke-width="1.3" />
<text x="298.5" y="391.02" font-size="8.4" text-anchor="end" fill="#222" >60</text>
<line x1="301.2" y1="406.08" x2="305" y2="406.08" stroke="#0a0a0a" stroke-width="1.3" />
<text x="298.5" y="409.18" font-size="8.4" text-anchor="end" fill="#222" >40</text>
<line x1="301.2" y1="424.24" x2="305" y2="424.24" stroke="#0a0a0a" stroke-width="1.3" />
<text x="298.5" y="427.34" font-size="8.4" text-anchor="end" fill="#222" >20</text>
<line x1="301.2" y1="442.4" x2="305" y2="442.4" stroke="#0a0a0a" stroke-width="1.3" />
<text x="298.5" y="445.5" font-size="8.4" text-anchor="end" fill="#222" >0</text>
<line x1="301.2" y1="442.4" x2="495.5" y2="442.4" stroke="#0a0a0a" stroke-width="1.7" />
<line x1="305.3" y1="442.4" x2="305.3" y2="446.0" stroke="#0a0a0a" stroke-width="1.3" />
<text x="305.3" y="457.3" font-size="8.4" text-anchor="middle" fill="#222" >0</text>
<line x1="336.36" y1="442.4" x2="336.36" y2="446.0" stroke="#0a0a0a" stroke-width="1.3" />
<text x="336.36" y="457.3" font-size="8.4" text-anchor="middle" fill="#222" >2</text>
<line x1="367.42" y1="442.4" x2="367.42" y2="446.0" stroke="#0a0a0a" stroke-width="1.3" />
<text x="367.42" y="457.3" font-size="8.4" text-anchor="middle" fill="#222" >4</text>
<line x1="398.48" y1="442.4" x2="398.48" y2="446.0" stroke="#0a0a0a" stroke-width="1.3" />
<text x="398.48" y="457.3" font-size="8.4" text-anchor="middle" fill="#222" >6</text>
<line x1="429.54" y1="442.4" x2="429.54" y2="446.0" stroke="#0a0a0a" stroke-width="1.3" />
<text x="429.54" y="457.3" font-size="8.4" text-anchor="middle" fill="#222" >8</text>
<line x1="460.6" y1="442.4" x2="460.6" y2="446.0" stroke="#0a0a0a" stroke-width="1.3" />
<text x="460.6" y="457.3" font-size="8.4" text-anchor="middle" fill="#222" >10</text>
<line x1="491.65999999999997" y1="442.4" x2="491.65999999999997" y2="446.0" stroke="#0a0a0a" stroke-width="1.3" />
<text x="491.65999999999997" y="457.3" font-size="8.4" text-anchor="middle" fill="#222" >12</text>
<text x="0" y="0" font-size="10.8" text-anchor="middle" fill="#222" textLength="81.2" lengthAdjust="spacingAndGlyphs" transform="translate(277.8,396) rotate(-90)">Cumulative incidence (%)</text>
<text x="400.1" y="469.3" font-size="9.6" text-anchor="middle" fill="#222" textLength="111.0" lengthAdjust="spacingAndGlyphs" stroke="#222" stroke-width="0.3">Months after commencing imatinib</text>
<polyline points="305.3,442.0 332.0,442.0 333.0,442.0 333.0,428.0 334.0,428.0 335.2,428.0 335.2,416.6 336.5,416.6 344.0,416.6 344.8,416.6 344.8,412.3 345.5,412.3 346.2,412.3 346.2,404.0 347.0,404.0 347.8,404.0 347.8,398.0 348.5,398.0 349.5,398.0 349.5,393.0 350.5,393.0 351.5,393.0 351.5,389.8 352.5,389.8 368.3,389.8" fill="none" stroke="#35426a" stroke-width="1.6" stroke-dasharray="5.5,3" stroke-linejoin="miter" />
<polyline points="305.3,442.0 331.8,442.0 332.6,442.0 332.6,425.0 333.5,425.0 334.2,425.0 334.2,410.0 335.0,410.0 336.0,410.0 336.0,409.0 337.0,409.0 338.5,409.0 338.5,407.0 340.0,407.0 341.5,407.0 341.5,406.0 343.0,406.0 344.5,406.0 344.5,405.0 346.0,405.0 346.8,405.0 346.8,398.0 347.6,398.0 348.3,398.0 348.3,390.0 349.0,390.0 349.8,390.0 349.8,383.0 350.5,383.0 351.8,383.0 351.8,378.0 353.0,378.0 371.0,378.0" fill="none" stroke="#62aa48" stroke-width="1.6" stroke-dasharray="2.8,1.6" stroke-linejoin="miter" />
<polyline points="305.3,442.0 331.5,442.0 332.2,442.0 332.2,425.0 333.0,425.0 333.9,425.0 333.9,402.0 334.8,402.0 335.9,402.0 335.9,400.0 337.0,400.0 338.0,400.0 338.0,399.0 339.0,399.0 340.0,399.0 340.0,398.0 341.0,398.0 342.0,398.0 342.0,397.0 343.0,397.0 344.0,397.0 344.0,396.5 345.0,396.5 346.0,396.5 346.0,395.5 347.0,395.5 347.5,395.5 347.5,389.0 348.0,389.0 348.8,389.0 348.8,380.0 349.5,380.0 350.2,380.0 350.2,371.0 351.0,371.0 351.5,371.0 351.5,367.0 352.0,367.0 365.0,367.0" fill="none" stroke="#9e1539" stroke-width="1.6" stroke-dasharray="5,2.6" stroke-linejoin="miter" />
<polyline points="305.3,442.0 331.5,442.0 332.2,442.0 332.2,425.0 333.0,425.0 333.9,425.0 333.9,402.0 334.8,402.0 335.9,402.0 335.9,400.0 337.0,400.0 338.0,400.0 338.0,399.0 339.0,399.0 340.0,399.0 340.0,398.0 341.0,398.0 342.0,398.0 342.0,397.0 343.0,397.0 344.0,397.0 344.0,396.5 345.0,396.5 346.0,396.5 346.0,395.5 347.0,395.5 347.5,395.5 347.5,388.0 348.0,388.0 348.8,388.0 348.8,378.0 349.5,378.0 350.2,378.0 350.2,368.0 351.0,368.0 351.9,368.0 351.9,360.6 352.7,360.6 359.2,360.6 359.2,357.6 369.6,357.6 369.6,354.4 372.2,354.4" fill="none" stroke="#35234d" stroke-width="1.6" stroke-linejoin="miter" />
<line x1="380" y1="354" x2="380" y2="389" stroke="#111" stroke-width="1.5"/>
<line x1="376.5" y1="354" x2="380.75" y2="354" stroke="#111" stroke-width="1.5"/>
<line x1="376.5" y1="367" x2="380.75" y2="367" stroke="#111" stroke-width="1.5"/>
<line x1="376.5" y1="379" x2="380.75" y2="379" stroke="#111" stroke-width="1.5"/>
<line x1="376.5" y1="389" x2="380.75" y2="389" stroke="#111" stroke-width="1.5"/>
<line x1="380" y1="360.5" x2="383.5" y2="360.5" stroke="#111" stroke-width="1.5"/>
<line x1="380" y1="373.0" x2="383.5" y2="373.0" stroke="#111" stroke-width="1.5"/>
<line x1="380" y1="384.0" x2="383.5" y2="384.0" stroke="#111" stroke-width="1.5"/>
<text x="387.5" y="362.8" font-size="7.5" fill="#222" textLength="28.5" lengthAdjust="spacingAndGlyphs"><tspan font-style="italic">P</tspan>=0.330</text>
<text x="387.5" y="375.6" font-size="7.5" fill="#222" textLength="28.5" lengthAdjust="spacingAndGlyphs"><tspan font-style="italic">P</tspan>=0.002</text>
<text x="387.5" y="387.2" font-size="7.5" fill="#222" textLength="28.5" lengthAdjust="spacingAndGlyphs"><tspan font-style="italic">P</tspan>=0.140</text>
<line x1="424.6" y1="367.9" x2="424.6" y2="388" stroke="#111" stroke-width="1.3"/>
<line x1="420.5" y1="367.9" x2="425.2" y2="367.9" stroke="#111" stroke-width="1.3"/>
<line x1="420.5" y1="388" x2="425.2" y2="388" stroke="#111" stroke-width="1.3"/>
<line x1="424.6" y1="377.5" x2="428" y2="377.5" stroke="#111" stroke-width="1.3"/>
<text x="430.4" y="380.2" font-size="7.5" fill="#222" textLength="28.5" lengthAdjust="spacingAndGlyphs"><tspan font-style="italic">P</tspan>&lt;0.001</text>
<line x1="463.6" y1="354.4" x2="463.6" y2="388" stroke="#111" stroke-width="1.3"/>
<line x1="459.5" y1="354.4" x2="464.2" y2="354.4" stroke="#111" stroke-width="1.3"/>
<line x1="459.5" y1="388" x2="464.2" y2="388" stroke="#111" stroke-width="1.3"/>
<line x1="463.6" y1="371.7" x2="467" y2="371.7" stroke="#111" stroke-width="1.3"/>
<text x="470.6" y="374" font-size="7.5" fill="#222" textLength="28.5" lengthAdjust="spacingAndGlyphs"><tspan font-style="italic">P</tspan>&lt;0.001</text>
<text x="389.2" y="401.9" font-size="8" fill="#222" textLength="69.3" lengthAdjust="spacingAndGlyphs" >Wald test <tspan font-style="italic">P</tspan> = 0.002</text>
<line x1="375.8" y1="412.7" x2="389.2" y2="412.7" stroke="#35234d" stroke-width="1.8" />
<g transform="translate(392.2,415.1) scale(0.95,1) translate(-392.2,-415.1)"><text x="392.2" y="415.1" font-size="6.7" fill="#222" >Favorable</text></g>
<g transform="translate(424.9,415.1) scale(0.98,1) translate(-424.9,-415.1)"><text x="424.9" y="415.1" font-size="6.7" fill="#222" >97% (CI 67-100)</text></g>
<line x1="375.8" y1="420.4" x2="389.2" y2="420.4" stroke="#9e1539" stroke-width="1.8" stroke-dasharray="5,2.6" />
<g transform="translate(392.2,422.8) scale(0.95,1) translate(-392.2,-422.8)"><text x="392.2" y="422.8" font-size="6.7" fill="#222" >Low</text></g>
<g transform="translate(424.9,422.8) scale(0.98,1) translate(-424.9,-422.8)"><text x="424.9" y="422.8" font-size="6.7" fill="#222" >84% (CI 78-88)</text></g>
<line x1="375.8" y1="428.4" x2="389.2" y2="428.4" stroke="#62aa48" stroke-width="1.8" stroke-dasharray="2.8,1.6" />
<g transform="translate(392.2,430.8) scale(0.95,1) translate(-392.2,-430.8)"><text x="392.2" y="430.8" font-size="6.7" fill="#222" >High</text></g>
<g transform="translate(424.9,430.8) scale(0.98,1) translate(-424.9,-430.8)"><text x="424.9" y="430.8" font-size="6.7" fill="#222" >70% (CI 61-76)</text></g>
<line x1="375.8" y1="436.2" x2="389.2" y2="436.2" stroke="#35426a" stroke-width="1.8" stroke-dasharray="5.5,3" />
<g transform="translate(392.2,438.6) scale(0.95,1) translate(-392.2,-438.6)"><text x="392.2" y="438.6" font-size="6.7" fill="#222" >Ultra-high</text></g>
<g transform="translate(424.9,438.6) scale(0.98,1) translate(-424.9,-438.6)"><text x="424.9" y="438.6" font-size="6.7" fill="#222" >60% (CI 46-72)</text></g>
<text x="9.5" y="488.8" font-size="12.5" font-weight="bold" fill="#000" stroke="#000" stroke-width="0.35">D</text>
<text x="140.1" y="490" font-size="9.6" text-anchor="middle" font-weight="bold" fill="#111" textLength="23.8" lengthAdjust="spacingAndGlyphs" stroke="#111" stroke-width="0.2">MMR</text>
<line x1="45" y1="496.6" x2="45" y2="589.5" stroke="#0a0a0a" stroke-width="1.8" />
<line x1="41.2" y1="500.0" x2="45" y2="500.0" stroke="#0a0a0a" stroke-width="1.3" />
<text x="38.5" y="503.1" font-size="8.4" text-anchor="end" fill="#222" >100</text>
<line x1="41.2" y1="517.74" x2="45" y2="517.74" stroke="#0a0a0a" stroke-width="1.3" />
<text x="38.5" y="520.84" font-size="8.4" text-anchor="end" fill="#222" >80</text>
<line x1="41.2" y1="535.48" x2="45" y2="535.48" stroke="#0a0a0a" stroke-width="1.3" />
<text x="38.5" y="538.58" font-size="8.4" text-anchor="end" fill="#222" >60</text>
<line x1="41.2" y1="553.22" x2="45" y2="553.22" stroke="#0a0a0a" stroke-width="1.3" />
<text x="38.5" y="556.32" font-size="8.4" text-anchor="end" fill="#222" >40</text>
<line x1="41.2" y1="570.96" x2="45" y2="570.96" stroke="#0a0a0a" stroke-width="1.3" />
<text x="38.5" y="574.06" font-size="8.4" text-anchor="end" fill="#222" >20</text>
<line x1="41.2" y1="588.7" x2="45" y2="588.7" stroke="#0a0a0a" stroke-width="1.3" />
<text x="38.5" y="591.8" font-size="8.4" text-anchor="end" fill="#222" >0</text>
<line x1="41.2" y1="588.7" x2="212.8" y2="588.7" stroke="#0a0a0a" stroke-width="1.7" />
<line x1="44.8" y1="588.7" x2="44.8" y2="592.3000000000001" stroke="#0a0a0a" stroke-width="1.3" />
<text x="44.8" y="602.4" font-size="8.4" text-anchor="middle" fill="#222" >0</text>
<line x1="72.22" y1="588.7" x2="72.22" y2="592.3000000000001" stroke="#0a0a0a" stroke-width="1.3" />
<text x="72.22" y="602.4" font-size="8.4" text-anchor="middle" fill="#222" >2</text>
<line x1="99.64" y1="588.7" x2="99.64" y2="592.3000000000001" stroke="#0a0a0a" stroke-width="1.3" />
<text x="99.64" y="602.4" font-size="8.4" text-anchor="middle" fill="#222" >4</text>
<line x1="127.06" y1="588.7" x2="127.06" y2="592.3000000000001" stroke="#0a0a0a" stroke-width="1.3" />
<text x="127.06" y="602.4" font-size="8.4" text-anchor="middle" fill="#222" >6</text>
<line x1="154.48000000000002" y1="588.7" x2="154.48000000000002" y2="592.3000000000001" stroke="#0a0a0a" stroke-width="1.3" />
<text x="154.48000000000002" y="602.4" font-size="8.4" text-anchor="middle" fill="#222" >8</text>
<line x1="181.90000000000003" y1="588.7" x2="181.90000000000003" y2="592.3000000000001" stroke="#0a0a0a" stroke-width="1.3" />
<text x="181.90000000000003" y="602.4" font-size="8.4" text-anchor="middle" fill="#222" >10</text>
<line x1="209.32" y1="588.7" x2="209.32" y2="592.3000000000001" stroke="#0a0a0a" stroke-width="1.3" />
<text x="209.32" y="602.4" font-size="8.4" text-anchor="middle" fill="#222" >12</text>
<text x="0" y="0" font-size="10.8" text-anchor="middle" fill="#222" textLength="81.5" lengthAdjust="spacingAndGlyphs" transform="translate(17.6,542.1) rotate(-90)">Cumulative incidence (%)</text>
<text x="128.9" y="615.2" font-size="9.6" text-anchor="middle" fill="#222" textLength="110.8" lengthAdjust="spacingAndGlyphs" stroke="#222" stroke-width="0.3">Months after commencing imatinib</text>
<polyline points="44.5,588.5 90.0,588.5 91.0,588.5 91.0,586.0 92.0,586.0 118.0,586.0 119.0,586.0 119.0,583.0 120.0,583.0 122.0,583.0 122.0,580.0 124.0,580.0 125.5,580.0 125.5,576.0 127.0,576.0 157.0,576.0 158.0,576.0 158.0,569.5 159.0,569.5 195.0,569.5 196.0,569.5 196.0,566.0 197.0,566.0 198.6,566.0 198.6,565.8 201.9,565.8 201.9,565.5 205.1,565.5 205.1,565.2 208.4,565.2 208.4,565.0 210.0,565.0" fill="none" stroke="#35426a" stroke-width="1.6" stroke-dasharray="5.5,3" stroke-linejoin="miter" />
<polyline points="44.5,588.5 75.0,588.5 77.5,588.5 77.5,586.5 80.0,586.5 82.5,586.5 82.5,582.7 85.0,582.7 118.0,582.7 119.0,582.7 119.0,578.0 120.0,578.0 121.0,578.0 121.0,572.0 122.0,572.0 123.5,572.0 123.5,564.5 125.0,564.5 155.0,564.5 156.5,564.5 156.5,558.0 158.0,558.0 159.0,558.0 159.0,555.5 160.0,555.5 195.0,555.5 196.0,555.5 196.0,552.0 197.0,552.0 199.0,552.0 199.0,551.6 203.0,551.6 203.0,551.2 205.0,551.2 210.0,551.2" fill="none" stroke="#62aa48" stroke-width="1.6" stroke-dasharray="2.8,1.6" stroke-linejoin="miter" />
<polyline points="44.5,588.5 71.7,588.5 71.7,586.0 81.0,586.0 82.5,586.0 82.5,582.0 84.0,582.0 85.5,582.0 85.5,579.5 87.0,579.5 118.0,579.5 119.0,579.5 119.0,575.0 120.0,575.0 121.0,575.0 121.0,566.0 122.0,566.0 123.0,566.0 123.0,560.0 124.0,560.0 124.5,560.0 124.5,557.0 125.0,557.0 155.0,557.0 156.0,557.0 156.0,550.0 157.0,550.0 158.5,550.0 158.5,543.8 160.0,543.8 195.0,543.8 196.0,543.8 196.0,541.2 197.0,541.2 198.6,541.2 198.6,540.9 201.9,540.9 201.9,540.6 205.1,540.6 205.1,540.3 208.4,540.3 208.4,540.0 210.0,540.0" fill="none" stroke="#9e1539" stroke-width="1.6" stroke-dasharray="5,2.6" stroke-linejoin="miter" />
<polyline points="44.5,588.5 71.7,588.5 71.7,586.0 81.0,586.0 81.0,583.0 82.5,583.0 82.5,580.0 84.0,580.0 85.5,580.0 85.5,577.7 87.0,577.7 118.0,577.7 118.0,575.0 119.0,575.0 119.0,572.0 120.0,572.0 120.5,572.0 120.5,566.0 121.0,566.0 122.0,566.0 122.0,557.0 123.0,557.0 124.0,557.0 124.0,549.5 125.0,549.5 156.3,549.5 156.3,540.0 157.2,540.0 157.2,538.0 158.0,538.0 159.0,538.0 159.0,535.0 160.0,535.0 193.8,535.0 193.8,532.5 206.0,532.5 206.0,530.5 210.0,530.5" fill="none" stroke="#35234d" stroke-width="1.6" stroke-linejoin="miter" />
<line x1="49.8" y1="502" x2="62.3" y2="502" stroke="#35234d" stroke-width="1.8" />
<g transform="translate(65.2,504.4) scale(0.95,1) translate(-65.2,-504.4)"><text x="65.2" y="504.4" font-size="6.7" fill="#222" >Favorable</text></g>
<g transform="translate(97.3,504.4) scale(0.98,1) translate(-97.3,-504.4)"><text x="97.3" y="504.4" font-size="6.7" fill="#222" >63% (CI 45-76)</text></g>
<line x1="49.8" y1="510" x2="62.3" y2="510" stroke="#9e1539" stroke-width="1.8" stroke-dasharray="5,2.6" />
<g transform="translate(65.2,512.4) scale(0.95,1) translate(-65.2,-512.4)"><text x="65.2" y="512.4" font-size="6.7" fill="#222" >Low</text></g>
<g transform="translate(97.3,512.4) scale(0.98,1) translate(-97.3,-512.4)"><text x="97.3" y="512.4" font-size="6.7" fill="#222" >55% (CI 48-60)</text></g>
<line x1="49.8" y1="518" x2="62.3" y2="518" stroke="#62aa48" stroke-width="1.8" stroke-dasharray="2.8,1.6" />
<g transform="translate(65.2,520.4) scale(0.95,1) translate(-65.2,-520.4)"><text x="65.2" y="520.4" font-size="6.7" fill="#222" >High</text></g>
<g transform="translate(97.3,520.4) scale(0.98,1) translate(-97.3,-520.4)"><text x="97.3" y="520.4" font-size="6.7" fill="#222" >42% (CI 34-49)</text></g>
<line x1="49.8" y1="525.8" x2="62.3" y2="525.8" stroke="#35426a" stroke-width="1.8" stroke-dasharray="5.5,3" />
<g transform="translate(65.2,528.2) scale(0.95,1) translate(-65.2,-528.2)"><text x="65.2" y="528.2" font-size="6.7" fill="#222" >Ultra-high</text></g>
<g transform="translate(97.3,528.2) scale(0.98,1) translate(-97.3,-528.2)"><text x="97.3" y="528.2" font-size="6.7" fill="#222" >30% (CI 18-42)</text></g>
<text x="56.3" y="542.2" font-size="8" fill="#222" textLength="67.5" lengthAdjust="spacingAndGlyphs" >Wald test <tspan font-style="italic">P</tspan> &lt; 0.001</text>
<line x1="213.7" y1="530.5" x2="213.7" y2="565" stroke="#111" stroke-width="1.5"/>
<line x1="210.2" y1="530.5" x2="214.45" y2="530.5" stroke="#111" stroke-width="1.5"/>
<line x1="210.2" y1="540.3" x2="214.45" y2="540.3" stroke="#111" stroke-width="1.5"/>
<line x1="210.2" y1="551.2" x2="214.45" y2="551.2" stroke="#111" stroke-width="1.5"/>
<line x1="210.2" y1="565" x2="214.45" y2="565" stroke="#111" stroke-width="1.5"/>
<line x1="213.7" y1="535.4" x2="217.2" y2="535.4" stroke="#111" stroke-width="1.5"/>
<line x1="213.7" y1="545.75" x2="217.2" y2="545.75" stroke="#111" stroke-width="1.5"/>
<line x1="213.7" y1="558.1" x2="217.2" y2="558.1" stroke="#111" stroke-width="1.5"/>
<text x="220.6" y="537.9" font-size="7.5" fill="#222" textLength="28.5" lengthAdjust="spacingAndGlyphs"><tspan font-style="italic">P</tspan>=0.020</text>
<text x="220.6" y="548.6" font-size="7.5" fill="#222" textLength="28.5" lengthAdjust="spacingAndGlyphs"><tspan font-style="italic">P</tspan>=0.001</text>
<text x="220.6" y="560.6" font-size="7.5" fill="#222" textLength="28.5" lengthAdjust="spacingAndGlyphs"><tspan font-style="italic">P</tspan>=0.041</text>
<text x="269.3" y="488.8" font-size="12.5" font-weight="bold" fill="#000" stroke="#000" stroke-width="0.35">E</text>
<text x="391" y="489.8" font-size="9.6" font-weight="bold" fill="#111" stroke="#111" stroke-width="0.2">MR<tspan font-size="6.5" dy="-3.6">4</tspan></text>
<line x1="305" y1="496.20000000000005" x2="305" y2="588.9" stroke="#0a0a0a" stroke-width="1.8" />
<line x1="301.2" y1="499.6" x2="305" y2="499.6" stroke="#0a0a0a" stroke-width="1.3" />
<text x="298.5" y="502.7" font-size="8.4" text-anchor="end" fill="#222" >100</text>
<line x1="301.2" y1="517.3000000000001" x2="305" y2="517.3000000000001" stroke="#0a0a0a" stroke-width="1.3" />
<text x="298.5" y="520.4" font-size="8.4" text-anchor="end" fill="#222" >80</text>
<line x1="301.2" y1="535.0" x2="305" y2="535.0" stroke="#0a0a0a" stroke-width="1.3" />
<text x="298.5" y="538.1" font-size="8.4" text-anchor="end" fill="#222" >60</text>
<line x1="301.2" y1="552.7" x2="305" y2="552.7" stroke="#0a0a0a" stroke-width="1.3" />
<text x="298.5" y="555.8" font-size="8.4" text-anchor="end" fill="#222" >40</text>
<line x1="301.2" y1="570.4" x2="305" y2="570.4" stroke="#0a0a0a" stroke-width="1.3" />
<text x="298.5" y="573.5" font-size="8.4" text-anchor="end" fill="#222" >20</text>
<line x1="301.2" y1="588.1" x2="305" y2="588.1" stroke="#0a0a0a" stroke-width="1.3" />
<text x="298.5" y="591.2" font-size="8.4" text-anchor="end" fill="#222" >0</text>
<line x1="301.2" y1="588.1" x2="472.8" y2="588.1" stroke="#0a0a0a" stroke-width="1.7" />
<line x1="304.5" y1="588.1" x2="304.5" y2="591.7" stroke="#0a0a0a" stroke-width="1.3" />
<text x="304.5" y="602.4" font-size="8.4" text-anchor="middle" fill="#222" >0</text>
<line x1="338.95" y1="588.1" x2="338.95" y2="591.7" stroke="#0a0a0a" stroke-width="1.3" />
<text x="338.95" y="602.4" font-size="8.4" text-anchor="middle" fill="#222" >10</text>
<line x1="373.4" y1="588.1" x2="373.4" y2="591.7" stroke="#0a0a0a" stroke-width="1.3" />
<text x="373.4" y="602.4" font-size="8.4" text-anchor="middle" fill="#222" >20</text>
<line x1="407.85" y1="588.1" x2="407.85" y2="591.7" stroke="#0a0a0a" stroke-width="1.3" />
<text x="407.85" y="602.4" font-size="8.4" text-anchor="middle" fill="#222" >30</text>
<line x1="442.29999999999995" y1="588.1" x2="442.29999999999995" y2="591.7" stroke="#0a0a0a" stroke-width="1.3" />
<text x="442.29999999999995" y="602.4" font-size="8.4" text-anchor="middle" fill="#222" >40</text>
<line x1="469.4" y1="588.1" x2="469.4" y2="591.7" stroke="#0a0a0a" stroke-width="1.3" />
<text x="0" y="0" font-size="10.8" text-anchor="middle" fill="#222" textLength="48.5" lengthAdjust="spacingAndGlyphs" transform="translate(278.6,542.1) rotate(-90)">Probability (%)</text>
<text x="389.15" y="615.2" font-size="9.6" text-anchor="middle" fill="#222" textLength="110.5" lengthAdjust="spacingAndGlyphs" stroke="#222" stroke-width="0.3">Months after commencing imatinib</text>
<polyline points="304.5,588.0 320.0,588.0 322.5,588.0 322.5,585.4 325.0,585.4 333.0,585.4 333.0,583.0 350.0,583.0 350.0,580.8 362.0,580.8 362.0,578.9 398.0,578.9 398.0,577.2 435.0,577.2 435.0,573.1 464.6,573.1 464.6,569.0 468.7,569.0 468.7,565.7 471.5,565.7 471.5,565.0 474.0,565.0" fill="none" stroke="#35426a" stroke-width="1.6" stroke-dasharray="5.5,3" stroke-linejoin="miter" />
<polyline points="304.5,588.0 320.0,588.0 322.5,588.0 322.5,583.0 325.0,583.0 326.9,583.0 326.9,582.0 330.6,582.0 330.6,581.1 334.4,581.1 334.4,580.2 338.1,580.2 338.1,579.2 340.0,579.2 341.7,579.2 341.7,578.1 345.0,578.1 345.0,577.1 348.3,577.1 348.3,576.0 350.0,576.0 351.7,576.0 351.7,575.3 355.0,575.3 355.0,574.5 358.3,574.5 358.3,573.8 360.0,573.8 361.7,573.8 361.7,572.6 365.0,572.6 365.0,571.5 368.3,571.5 368.3,570.3 370.0,570.3 371.7,570.3 371.7,569.4 375.0,569.4 375.0,568.6 378.3,568.6 378.3,567.7 380.0,567.7 381.7,567.7 381.7,566.7 385.0,566.7 385.0,565.6 388.3,565.6 388.3,564.6 390.0,564.6 391.7,564.6 391.7,562.8 395.0,562.8 395.0,561.0 398.3,561.0 398.3,559.2 400.0,559.2 401.7,559.2 401.7,557.8 405.0,557.8 405.0,556.5 408.3,556.5 408.3,555.1 410.0,555.1 411.7,555.1 411.7,554.6 415.0,554.6 415.0,554.0 418.3,554.0 418.3,553.5 420.0,553.5 421.7,553.5 421.7,552.7 425.0,552.7 425.0,551.8 428.3,551.8 428.3,551.0 430.0,551.0 431.7,551.0 431.7,550.7 435.0,550.7 435.0,550.5 438.3,550.5 438.3,550.2 440.0,550.2 441.8,550.2 441.8,550.0 445.4,550.0 445.4,549.9 449.0,549.9 449.0,549.7 452.6,549.7 452.6,549.6 456.2,549.6 456.2,549.4 458.0,549.4 459.0,549.4 459.0,545.3 460.0,545.3 461.7,545.3 461.7,545.2 465.0,545.2 465.0,545.1 468.3,545.1 468.3,545.0 470.0,545.0" fill="none" stroke="#62aa48" stroke-width="1.6" stroke-dasharray="2.8,1.6" stroke-linejoin="miter" />
<polyline points="304.5,588.0 318.0,588.0 319.6,588.0 319.6,586.0 323.0,586.0 323.0,584.0 324.6,584.0 324.8,584.0 324.8,581.0 325.0,581.0 327.0,581.0 327.0,579.0 331.0,579.0 331.0,577.0 333.0,577.0 334.8,577.0 334.8,575.0 338.2,575.0 338.2,573.0 340.0,573.0 341.7,573.0 341.7,571.7 345.0,571.7 345.0,570.5 348.3,570.5 348.3,569.2 350.0,569.2 351.7,569.2 351.7,568.2 355.0,568.2 355.0,567.2 358.3,567.2 358.3,566.2 360.0,566.2 361.7,566.2 361.7,564.6 365.0,564.6 365.0,563.1 368.3,563.1 368.3,561.5 370.0,561.5 371.7,561.5 371.7,560.5 375.0,560.5 375.0,559.5 378.3,559.5 378.3,558.5 380.0,558.5 381.7,558.5 381.7,557.3 385.0,557.3 385.0,556.2 388.3,556.2 388.3,555.0 390.0,555.0 391.7,555.0 391.7,553.4 395.0,553.4 395.0,551.8 398.3,551.8 398.3,550.2 400.0,550.2 401.7,550.2 401.7,549.4 405.0,549.4 405.0,548.6 408.3,548.6 408.3,547.8 410.0,547.8 411.7,547.8 411.7,547.0 415.0,547.0 415.0,546.1 418.3,546.1 418.3,545.3 420.0,545.3 421.7,545.3 421.7,544.5 425.0,544.5 425.0,543.7 428.3,543.7 428.3,542.9 430.0,542.9 431.7,542.9 431.7,542.3 435.0,542.3 435.0,541.8 438.3,541.8 438.3,541.2 440.0,541.2 441.9,541.2 441.9,541.0 445.6,541.0 445.6,540.8 449.4,540.8 449.4,540.6 453.1,540.6 453.1,540.4 455.0,540.4 456.9,540.4 456.9,540.1 460.6,540.1 460.6,539.8 464.4,539.8 464.4,539.6 468.1,539.6 468.1,539.3 470.0,539.3" fill="none" stroke="#9e1539" stroke-width="1.6" stroke-dasharray="5,2.6" stroke-linejoin="miter" />
<polyline points="304.5,588.0 322.0,588.0 323.3,588.0 323.3,587.0 324.6,587.0 324.6,574.6 332.3,574.6 332.3,570.8 341.5,570.8 341.5,563.0 343.8,563.0 343.8,559.2 352.3,559.2 352.3,550.0 360.0,550.0 360.0,547.7 365.4,547.7 365.4,544.6 370.8,544.6 370.8,542.3 374.6,542.3 374.6,540.5 386.0,540.5 386.0,537.0 400.7,537.0 400.7,534.7 440.8,534.7 440.8,531.1 453.0,531.1 453.0,527.4 470.2,527.4" fill="none" stroke="#35234d" stroke-width="1.6" stroke-linejoin="miter" />
<line x1="309.8" y1="500.7" x2="322.3" y2="500.7" stroke="#35234d" stroke-width="1.8" />
<g transform="translate(325.2,503.1) scale(0.95,1) translate(-325.2,-503.1)"><text x="325.2" y="503.1" font-size="6.7" fill="#222" >Favorable</text></g>
<g transform="translate(357.3,503.1) scale(0.98,1) translate(-357.3,-503.1)"><text x="357.3" y="503.1" font-size="6.7" fill="#222" >68% (CI 48-81)</text></g>
<line x1="309.8" y1="508.4" x2="322.3" y2="508.4" stroke="#9e1539" stroke-width="1.8" stroke-dasharray="5,2.6" />
<g transform="translate(325.2,510.8) scale(0.95,1) translate(-325.2,-510.8)"><text x="325.2" y="510.8" font-size="6.7" fill="#222" >Low</text></g>
<g transform="translate(357.3,510.8) scale(0.98,1) translate(-357.3,-510.8)"><text x="357.3" y="510.8" font-size="6.7" fill="#222" >54% (CI 48-61)</text></g>
<line x1="309.8" y1="516" x2="322.3" y2="516" stroke="#62aa48" stroke-width="1.8" stroke-dasharray="2.8,1.6" />
<g transform="translate(325.2,518.4) scale(0.95,1) translate(-325.2,-518.4)"><text x="325.2" y="518.4" font-size="6.7" fill="#222" >High</text></g>
<g transform="translate(357.3,518.4) scale(0.98,1) translate(-357.3,-518.4)"><text x="357.3" y="518.4" font-size="6.7" fill="#222" >47% (CI 38-55)</text></g>
<line x1="309.8" y1="523.8" x2="322.3" y2="523.8" stroke="#35426a" stroke-width="1.8" stroke-dasharray="5.5,3" />
<g transform="translate(325.2,526.2) scale(0.95,1) translate(-325.2,-526.2)"><text x="325.2" y="526.2" font-size="6.7" fill="#222" >Ultra-high</text></g>
<g transform="translate(357.3,526.2) scale(0.98,1) translate(-357.3,-526.2)"><text x="357.3" y="526.2" font-size="6.7" fill="#222" >26% (CI 14-39)</text></g>
<text x="307.3" y="538.3" font-size="8" fill="#222" textLength="67.5" lengthAdjust="spacingAndGlyphs" >Wald test <tspan font-style="italic">P</tspan> &lt;0.001</text>
<line x1="474.5" y1="527" x2="474.5" y2="565" stroke="#111" stroke-width="1.5"/>
<line x1="471.0" y1="527" x2="475.25" y2="527" stroke="#111" stroke-width="1.5"/>
<line x1="471.0" y1="539.3" x2="475.25" y2="539.3" stroke="#111" stroke-width="1.5"/>
<line x1="471.0" y1="545.6" x2="475.25" y2="545.6" stroke="#111" stroke-width="1.5"/>
<line x1="471.0" y1="565" x2="475.25" y2="565" stroke="#111" stroke-width="1.5"/>
<line x1="474.5" y1="533.15" x2="478.0" y2="533.15" stroke="#111" stroke-width="1.5"/>
<line x1="474.5" y1="542.45" x2="478.0" y2="542.45" stroke="#111" stroke-width="1.5"/>
<line x1="474.5" y1="555.3" x2="478.0" y2="555.3" stroke="#111" stroke-width="1.5"/>
<text x="481.4" y="535.6" font-size="7.5" fill="#222" textLength="28.5" lengthAdjust="spacingAndGlyphs"><tspan font-style="italic">P</tspan>=0.060</text>
<text x="481.4" y="545.3" font-size="7.5" fill="#222" textLength="28.5" lengthAdjust="spacingAndGlyphs"><tspan font-style="italic">P</tspan>=0.055</text>
<text x="481.4" y="558.1" font-size="7.5" fill="#222" textLength="28.5" lengthAdjust="spacingAndGlyphs"><tspan font-style="italic">P</tspan>=0.018</text>
<text x="9.5" y="635.2" font-size="12.5" font-weight="bold" fill="#000" stroke="#000" stroke-width="0.35">F</text>
<text x="127.6" y="635.4" font-size="9.6" font-weight="bold" fill="#111" stroke="#111" stroke-width="0.2">MR<tspan font-size="6.5" dy="-3.6">4.5</tspan></text>
<line x1="45" y1="642.9" x2="45" y2="734.1999999999999" stroke="#0a0a0a" stroke-width="1.8" />
<line x1="41.2" y1="646.3" x2="45" y2="646.3" stroke="#0a0a0a" stroke-width="1.3" />
<text x="38.5" y="649.4" font-size="8.4" text-anchor="end" fill="#222" >100</text>
<line x1="41.2" y1="663.7199999999999" x2="45" y2="663.7199999999999" stroke="#0a0a0a" stroke-width="1.3" />
<text x="38.5" y="666.82" font-size="8.4" text-anchor="end" fill="#222" >80</text>
<line x1="41.2" y1="681.14" x2="45" y2="681.14" stroke="#0a0a0a" stroke-width="1.3" />
<text x="38.5" y="684.24" font-size="8.4" text-anchor="end" fill="#222" >60</text>
<line x1="41.2" y1="698.56" x2="45" y2="698.56" stroke="#0a0a0a" stroke-width="1.3" />
<text x="38.5" y="701.66" font-size="8.4" text-anchor="end" fill="#222" >40</text>
<line x1="41.2" y1="715.98" x2="45" y2="715.98" stroke="#0a0a0a" stroke-width="1.3" />
<text x="38.5" y="719.08" font-size="8.4" text-anchor="end" fill="#222" >20</text>
<line x1="41.2" y1="733.4" x2="45" y2="733.4" stroke="#0a0a0a" stroke-width="1.3" />
<text x="38.5" y="736.5" font-size="8.4" text-anchor="end" fill="#222" >0</text>
<line x1="41.2" y1="733.4" x2="213" y2="733.4" stroke="#0a0a0a" stroke-width="1.7" />
<line x1="45.0" y1="733.4" x2="45.0" y2="737.0" stroke="#0a0a0a" stroke-width="1.3" />
<text x="45.0" y="748" font-size="8.4" text-anchor="middle" fill="#222" >0</text>
<line x1="79.4" y1="733.4" x2="79.4" y2="737.0" stroke="#0a0a0a" stroke-width="1.3" />
<text x="79.4" y="748" font-size="8.4" text-anchor="middle" fill="#222" >10</text>
<line x1="113.8" y1="733.4" x2="113.8" y2="737.0" stroke="#0a0a0a" stroke-width="1.3" />
<text x="113.8" y="748" font-size="8.4" text-anchor="middle" fill="#222" >20</text>
<line x1="148.2" y1="733.4" x2="148.2" y2="737.0" stroke="#0a0a0a" stroke-width="1.3" />
<text x="148.2" y="748" font-size="8.4" text-anchor="middle" fill="#222" >30</text>
<line x1="182.6" y1="733.4" x2="182.6" y2="737.0" stroke="#0a0a0a" stroke-width="1.3" />
<text x="182.6" y="748" font-size="8.4" text-anchor="middle" fill="#222" >40</text>
<line x1="209.6" y1="733.4" x2="209.6" y2="737.0" stroke="#0a0a0a" stroke-width="1.3" />
<text x="0" y="0" font-size="10.8" text-anchor="middle" fill="#222" textLength="82.2" lengthAdjust="spacingAndGlyphs" transform="translate(17.6,686.8) rotate(-90)">Cumulative incidence (%)</text>
<text x="128.35" y="759.2" font-size="9.6" text-anchor="middle" fill="#222" textLength="110.9" lengthAdjust="spacingAndGlyphs" stroke="#222" stroke-width="0.3">Months after commencing imatinib</text>
<polyline points="45.0,733.0 70.0,733.0 72.5,733.0 72.5,731.0 75.0,731.0 76.8,731.0 76.8,730.9 80.4,730.9 80.4,730.7 83.9,730.7 83.9,730.6 87.5,730.6 87.5,730.4 91.1,730.4 91.1,730.3 94.6,730.3 94.6,730.1 98.2,730.1 98.2,730.0 100.0,730.0 101.7,730.0 101.7,729.7 105.0,729.7 105.0,729.3 108.3,729.3 108.3,729.0 111.7,729.0 111.7,728.7 115.0,728.7 115.0,728.3 118.3,728.3 118.3,728.0 120.0,728.0 148.0,728.0 149.0,728.0 149.0,725.5 150.0,725.5 151.8,725.5 151.8,725.2 155.4,725.2 155.4,725.0 158.9,725.0 158.9,724.8 162.5,724.8 162.5,724.5 166.1,724.5 166.1,724.2 169.6,724.2 169.6,724.0 173.2,724.0 173.2,723.8 175.0,723.8 208.8,723.8" fill="none" stroke="#35426a" stroke-width="1.6" stroke-dasharray="5.5,3" stroke-linejoin="miter" />
<polyline points="45.0,733.0 65.0,733.0 66.7,733.0 66.7,732.0 70.0,732.0 70.0,731.0 73.3,731.0 73.3,730.0 75.0,730.0 76.7,730.0 76.7,729.0 80.0,729.0 80.0,728.0 83.3,728.0 83.3,727.0 85.0,727.0 86.9,727.0 86.9,726.2 90.6,726.2 90.6,725.5 94.4,725.5 94.4,724.8 98.1,724.8 98.1,724.0 100.0,724.0 101.7,724.0 101.7,723.7 105.0,723.7 105.0,723.3 108.3,723.3 108.3,723.0 111.7,723.0 111.7,722.7 115.0,722.7 115.0,722.3 118.3,722.3 118.3,722.0 120.0,722.0 121.7,722.0 121.7,722.2 125.0,722.2 125.0,722.3 128.3,722.3 128.3,722.5 130.0,722.5 131.9,722.5 131.9,721.9 135.6,721.9 135.6,721.2 139.4,721.2 139.4,720.6 143.1,720.6 143.1,720.0 145.0,720.0 146.9,720.0 146.9,719.1 150.6,719.1 150.6,718.1 154.4,718.1 154.4,717.2 158.1,717.2 158.1,716.2 160.0,716.2 161.9,716.2 161.9,715.6 165.6,715.6 165.6,715.0 169.4,715.0 169.4,714.4 173.1,714.4 173.1,713.8 175.0,713.8 176.7,713.8 176.7,713.3 180.0,713.3 180.0,712.9 183.3,712.9 183.3,712.5 185.0,712.5 208.8,712.5" fill="none" stroke="#62aa48" stroke-width="1.6" stroke-dasharray="2.8,1.6" stroke-linejoin="miter" />
<polyline points="45.0,733.0 60.0,733.0 61.7,733.0 61.7,731.9 65.2,731.9 65.2,730.9 68.6,730.9 68.6,729.8 72.1,729.8 72.1,728.7 73.8,728.7 75.7,728.7 75.7,727.7 79.4,727.7 79.4,726.8 83.1,726.8 83.1,725.8 85.0,725.8 86.8,725.8 86.8,724.9 90.3,724.9 90.3,724.1 93.8,724.1 93.8,723.2 97.4,723.2 97.4,722.4 100.9,722.4 100.9,721.5 102.7,721.5 118.0,721.5 119.5,721.5 119.5,716.0 121.0,716.0 122.5,716.0 122.5,715.7 125.5,715.7 125.5,715.3 128.5,715.3 128.5,715.0 130.0,715.0 131.7,715.0 131.7,714.5 135.0,714.5 135.0,714.0 138.3,714.0 138.3,713.5 141.7,713.5 141.7,713.0 145.0,713.0 145.0,712.5 148.3,712.5 148.3,712.0 150.0,712.0 151.7,712.0 151.7,711.3 155.0,711.3 155.0,710.7 158.3,710.7 158.3,710.0 161.7,710.0 161.7,709.3 165.0,709.3 165.0,708.7 168.3,708.7 168.3,708.0 170.0,708.0 171.9,708.0 171.9,707.6 175.6,707.6 175.6,707.1 179.4,707.1 179.4,706.7 183.1,706.7 183.1,706.2 185.0,706.2 186.9,706.2 186.9,705.6 190.6,705.6 190.6,705.0 194.4,705.0 194.4,704.4 198.1,704.4 198.1,703.8 200.0,703.8 202.2,703.8 202.2,702.1 206.6,702.1 206.6,700.5 208.8,700.5" fill="none" stroke="#9e1539" stroke-width="1.6" stroke-dasharray="5,2.6" stroke-linejoin="miter" />
<polyline points="45.0,733.0 54.0,733.0 54.0,732.0 73.8,732.0 73.8,728.7 83.5,728.7 83.5,722.9 94.0,722.9 94.0,720.4 97.9,720.4 97.9,717.7 102.7,717.7 102.7,715.2 106.5,715.2 106.5,711.3 110.4,711.3 110.4,708.5 114.2,708.5 114.2,704.6 119.0,704.6 119.0,700.8 123.8,700.8 123.8,697.9 127.7,697.9 127.7,696.0 145.0,696.0 145.0,691.2 155.0,691.2 155.0,688.8 187.5,688.8 187.5,684.5 191.2,684.5 191.2,681.2 208.8,681.2" fill="none" stroke="#35234d" stroke-width="1.6" stroke-linejoin="miter" />
<line x1="49.8" y1="647.7" x2="62.3" y2="647.7" stroke="#35234d" stroke-width="1.8" />
<g transform="translate(65.2,650.1) scale(0.95,1) translate(-65.2,-650.1)"><text x="65.2" y="650.1" font-size="6.7" fill="#222" >Favorable</text></g>
<g transform="translate(97.3,650.1) scale(0.98,1) translate(-97.3,-650.1)"><text x="97.3" y="650.1" font-size="6.7" fill="#222" >60% (CI 41-74)</text></g>
<line x1="49.8" y1="655.2" x2="62.3" y2="655.2" stroke="#9e1539" stroke-width="1.8" stroke-dasharray="5,2.6" />
<g transform="translate(65.2,657.6) scale(0.95,1) translate(-65.2,-657.6)"><text x="65.2" y="657.6" font-size="6.7" fill="#222" >Low</text></g>
<g transform="translate(97.3,657.6) scale(0.98,1) translate(-97.3,-657.6)"><text x="97.3" y="657.6" font-size="6.7" fill="#222" >34% (CI 28-41)</text></g>
<line x1="49.8" y1="662.8" x2="62.3" y2="662.8" stroke="#62aa48" stroke-width="1.8" stroke-dasharray="2.8,1.6" />
<g transform="translate(65.2,665.2) scale(0.95,1) translate(-65.2,-665.2)"><text x="65.2" y="665.2" font-size="6.7" fill="#222" >High</text></g>
<g transform="translate(97.3,665.2) scale(0.98,1) translate(-97.3,-665.2)"><text x="97.3" y="665.2" font-size="6.7" fill="#222" >24% (CI 17-31)</text></g>
<line x1="49.8" y1="670.4" x2="62.3" y2="670.4" stroke="#35426a" stroke-width="1.8" stroke-dasharray="5.5,3" />
<g transform="translate(65.2,672.8) scale(0.95,1) translate(-65.2,-672.8)"><text x="65.2" y="672.8" font-size="6.7" fill="#222" >Ultra-high</text></g>
<g transform="translate(97.3,672.8) scale(0.98,1) translate(-97.3,-672.8)"><text x="97.3" y="672.8" font-size="6.7" fill="#222" >12% (CI 6-22)</text></g>
<text x="56.3" y="686.5" font-size="8" fill="#222" textLength="67.5" lengthAdjust="spacingAndGlyphs" >Wald test <tspan font-style="italic">P</tspan> &lt; 0.001</text>
<line x1="214.5" y1="681" x2="214.5" y2="724.2" stroke="#111" stroke-width="1.5"/>
<line x1="211.0" y1="681" x2="215.25" y2="681" stroke="#111" stroke-width="1.5"/>
<line x1="211.0" y1="700.8" x2="215.25" y2="700.8" stroke="#111" stroke-width="1.5"/>
<line x1="211.0" y1="712.8" x2="215.25" y2="712.8" stroke="#111" stroke-width="1.5"/>
<line x1="211.0" y1="724.2" x2="215.25" y2="724.2" stroke="#111" stroke-width="1.5"/>
<line x1="214.5" y1="690.9" x2="218.0" y2="690.9" stroke="#111" stroke-width="1.5"/>
<line x1="214.5" y1="706.8" x2="218.0" y2="706.8" stroke="#111" stroke-width="1.5"/>
<line x1="214.5" y1="718.5" x2="218.0" y2="718.5" stroke="#111" stroke-width="1.5"/>
<text x="221.5" y="692.7" font-size="7.5" fill="#222" textLength="28.5" lengthAdjust="spacingAndGlyphs"><tspan font-style="italic">P</tspan>=0.002</text>
<text x="221.5" y="709.7" font-size="7.5" fill="#222" textLength="28.5" lengthAdjust="spacingAndGlyphs"><tspan font-style="italic">P</tspan>=0.030</text>
<text x="221.5" y="721.7" font-size="7.5" fill="#222" textLength="28.5" lengthAdjust="spacingAndGlyphs"><tspan font-style="italic">P</tspan>=0.082</text>
<rect x="0" y="0" width="520" height="1" fill="#000"/>
<rect x="0" y="0" width="1" height="770" fill="#000"/>
<rect x="518.6" y="0" width="1.4" height="770" fill="#000"/>
<rect x="0" y="768.4" width="520" height="1.6" fill="#000"/>
</svg>
</body></html>
